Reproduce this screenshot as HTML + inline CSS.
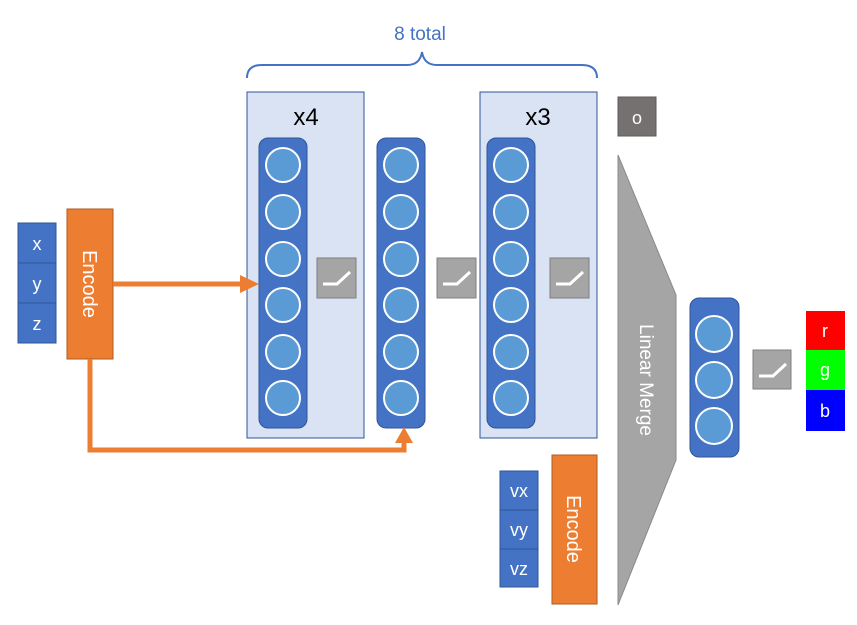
<!DOCTYPE html>
<html><head><style>body{margin:0;background:#fff}</style></head><body>
<svg width="857" height="620" xmlns="http://www.w3.org/2000/svg" font-family="Liberation Sans, sans-serif">
<rect width="857" height="620" fill="#fff"/>
<text x="420" y="40" font-size="19" fill="#4472c4" text-anchor="middle">8 total</text>
<path d="M247,78 Q247,65 262,65 L407,65 Q420,65 422,52 Q424,65 437,65 L582,65 Q597,65 597,78" fill="none" stroke="#4472c4" stroke-width="2"/>
<rect x="247" y="92" width="117" height="346" fill="#dae3f3" stroke="#2f5597"/>
<rect x="480" y="92" width="117" height="346" fill="#dae3f3" stroke="#2f5597"/>
<text x="306" y="125" font-size="24" text-anchor="middle">x4</text>
<text x="538" y="125" font-size="24" text-anchor="middle">x3</text>
<g fill="#4472c4" stroke="#2f5597">
<rect x="259" y="138" width="48" height="290" rx="9"/>
<rect x="377" y="138" width="48" height="290" rx="9"/>
<rect x="487" y="138" width="48" height="290" rx="9"/>
<rect x="690" y="298" width="49" height="159" rx="9"/>
</g>
<g fill="#5b9bd5" stroke="#fff" stroke-width="2">
<circle cx="283" cy="165" r="17"/><circle cx="283" cy="212" r="17"/><circle cx="283" cy="259" r="17"/><circle cx="283" cy="305" r="17"/><circle cx="283" cy="352" r="17"/><circle cx="283" cy="398" r="17"/>
<circle cx="401" cy="165" r="17"/><circle cx="401" cy="212" r="17"/><circle cx="401" cy="259" r="17"/><circle cx="401" cy="305" r="17"/><circle cx="401" cy="352" r="17"/><circle cx="401" cy="398" r="17"/>
<circle cx="511" cy="165" r="17"/><circle cx="511" cy="212" r="17"/><circle cx="511" cy="259" r="17"/><circle cx="511" cy="305" r="17"/><circle cx="511" cy="352" r="17"/><circle cx="511" cy="398" r="17"/>
<circle cx="714" cy="334" r="18"/><circle cx="714" cy="380" r="18"/><circle cx="714" cy="426" r="18"/>
</g>
<g fill="#a5a5a5" stroke="#7f7f7f">
<rect x="317" y="258" width="39" height="40"/>
<rect x="437" y="258" width="39" height="40"/>
<rect x="550" y="258" width="39" height="40"/>
<rect x="753" y="350" width="38" height="39"/>
</g>
<g fill="none" stroke="#fff" stroke-width="3">
<path d="M323,284 H337 L350,272"/><path d="M443,284 H457 L470,272"/><path d="M556,284 H570 L583,272"/><path d="M759,376 H773 L786,364"/>
</g>
<rect x="618" y="97" width="38" height="39" fill="#767171" stroke="#5a5a5a"/>
<text x="637" y="124" font-size="18" fill="#fff" text-anchor="middle">o</text>
<polygon points="618,155 676,295 676,460 618,605" fill="#a5a5a5" stroke="#8a8a8a"/>
<text transform="translate(640,380) rotate(90)" font-size="19" fill="#fff" text-anchor="middle">Linear Merge</text>
<rect x="806" y="311" width="39" height="39" fill="#ff0000"/>
<rect x="806" y="350" width="39" height="40" fill="#00ff00"/>
<rect x="806" y="390" width="39" height="41" fill="#0000ff"/>
<text x="825" y="337" font-size="18" fill="#fff" text-anchor="middle">r</text>
<text x="825" y="376" font-size="18" fill="#fff" text-anchor="middle">g</text>
<text x="825" y="417" font-size="18" fill="#fff" text-anchor="middle">b</text>
<g fill="#4472c4" stroke="#2f5597">
<rect x="18" y="223" width="38" height="40"/><rect x="18" y="263" width="38" height="40"/><rect x="18" y="303" width="38" height="40"/>
<rect x="500" y="471" width="38" height="39"/><rect x="500" y="510" width="38" height="39"/><rect x="500" y="549" width="38" height="38"/>
</g>
<g fill="#fff" font-size="18" text-anchor="middle">
<text x="37" y="250">x</text><text x="37" y="290">y</text><text x="37" y="330">z</text>
<text x="519" y="497">vx</text><text x="519" y="536">vy</text><text x="519" y="575">vz</text>
</g>
<rect x="67" y="209" width="46" height="150" fill="#ed7d31" stroke="#ae5a21"/>
<rect x="552" y="455" width="45" height="149" fill="#ed7d31" stroke="#ae5a21"/>
<text transform="translate(83,284) rotate(90)" font-size="20" fill="#fff" text-anchor="middle">Encode</text>
<text transform="translate(567,529) rotate(90)" font-size="20" fill="#fff" text-anchor="middle">Encode</text>
<g stroke="#ed7d31" stroke-width="5" fill="none">
<path d="M113,284 H242"/>
<path d="M90,359 V450 H404 V440"/>
</g>
<polygon points="240,275 259,284 240,293" fill="#ed7d31"/>
<polygon points="395,443 404,427 413,443" fill="#ed7d31"/>
</svg>
</body></html>
